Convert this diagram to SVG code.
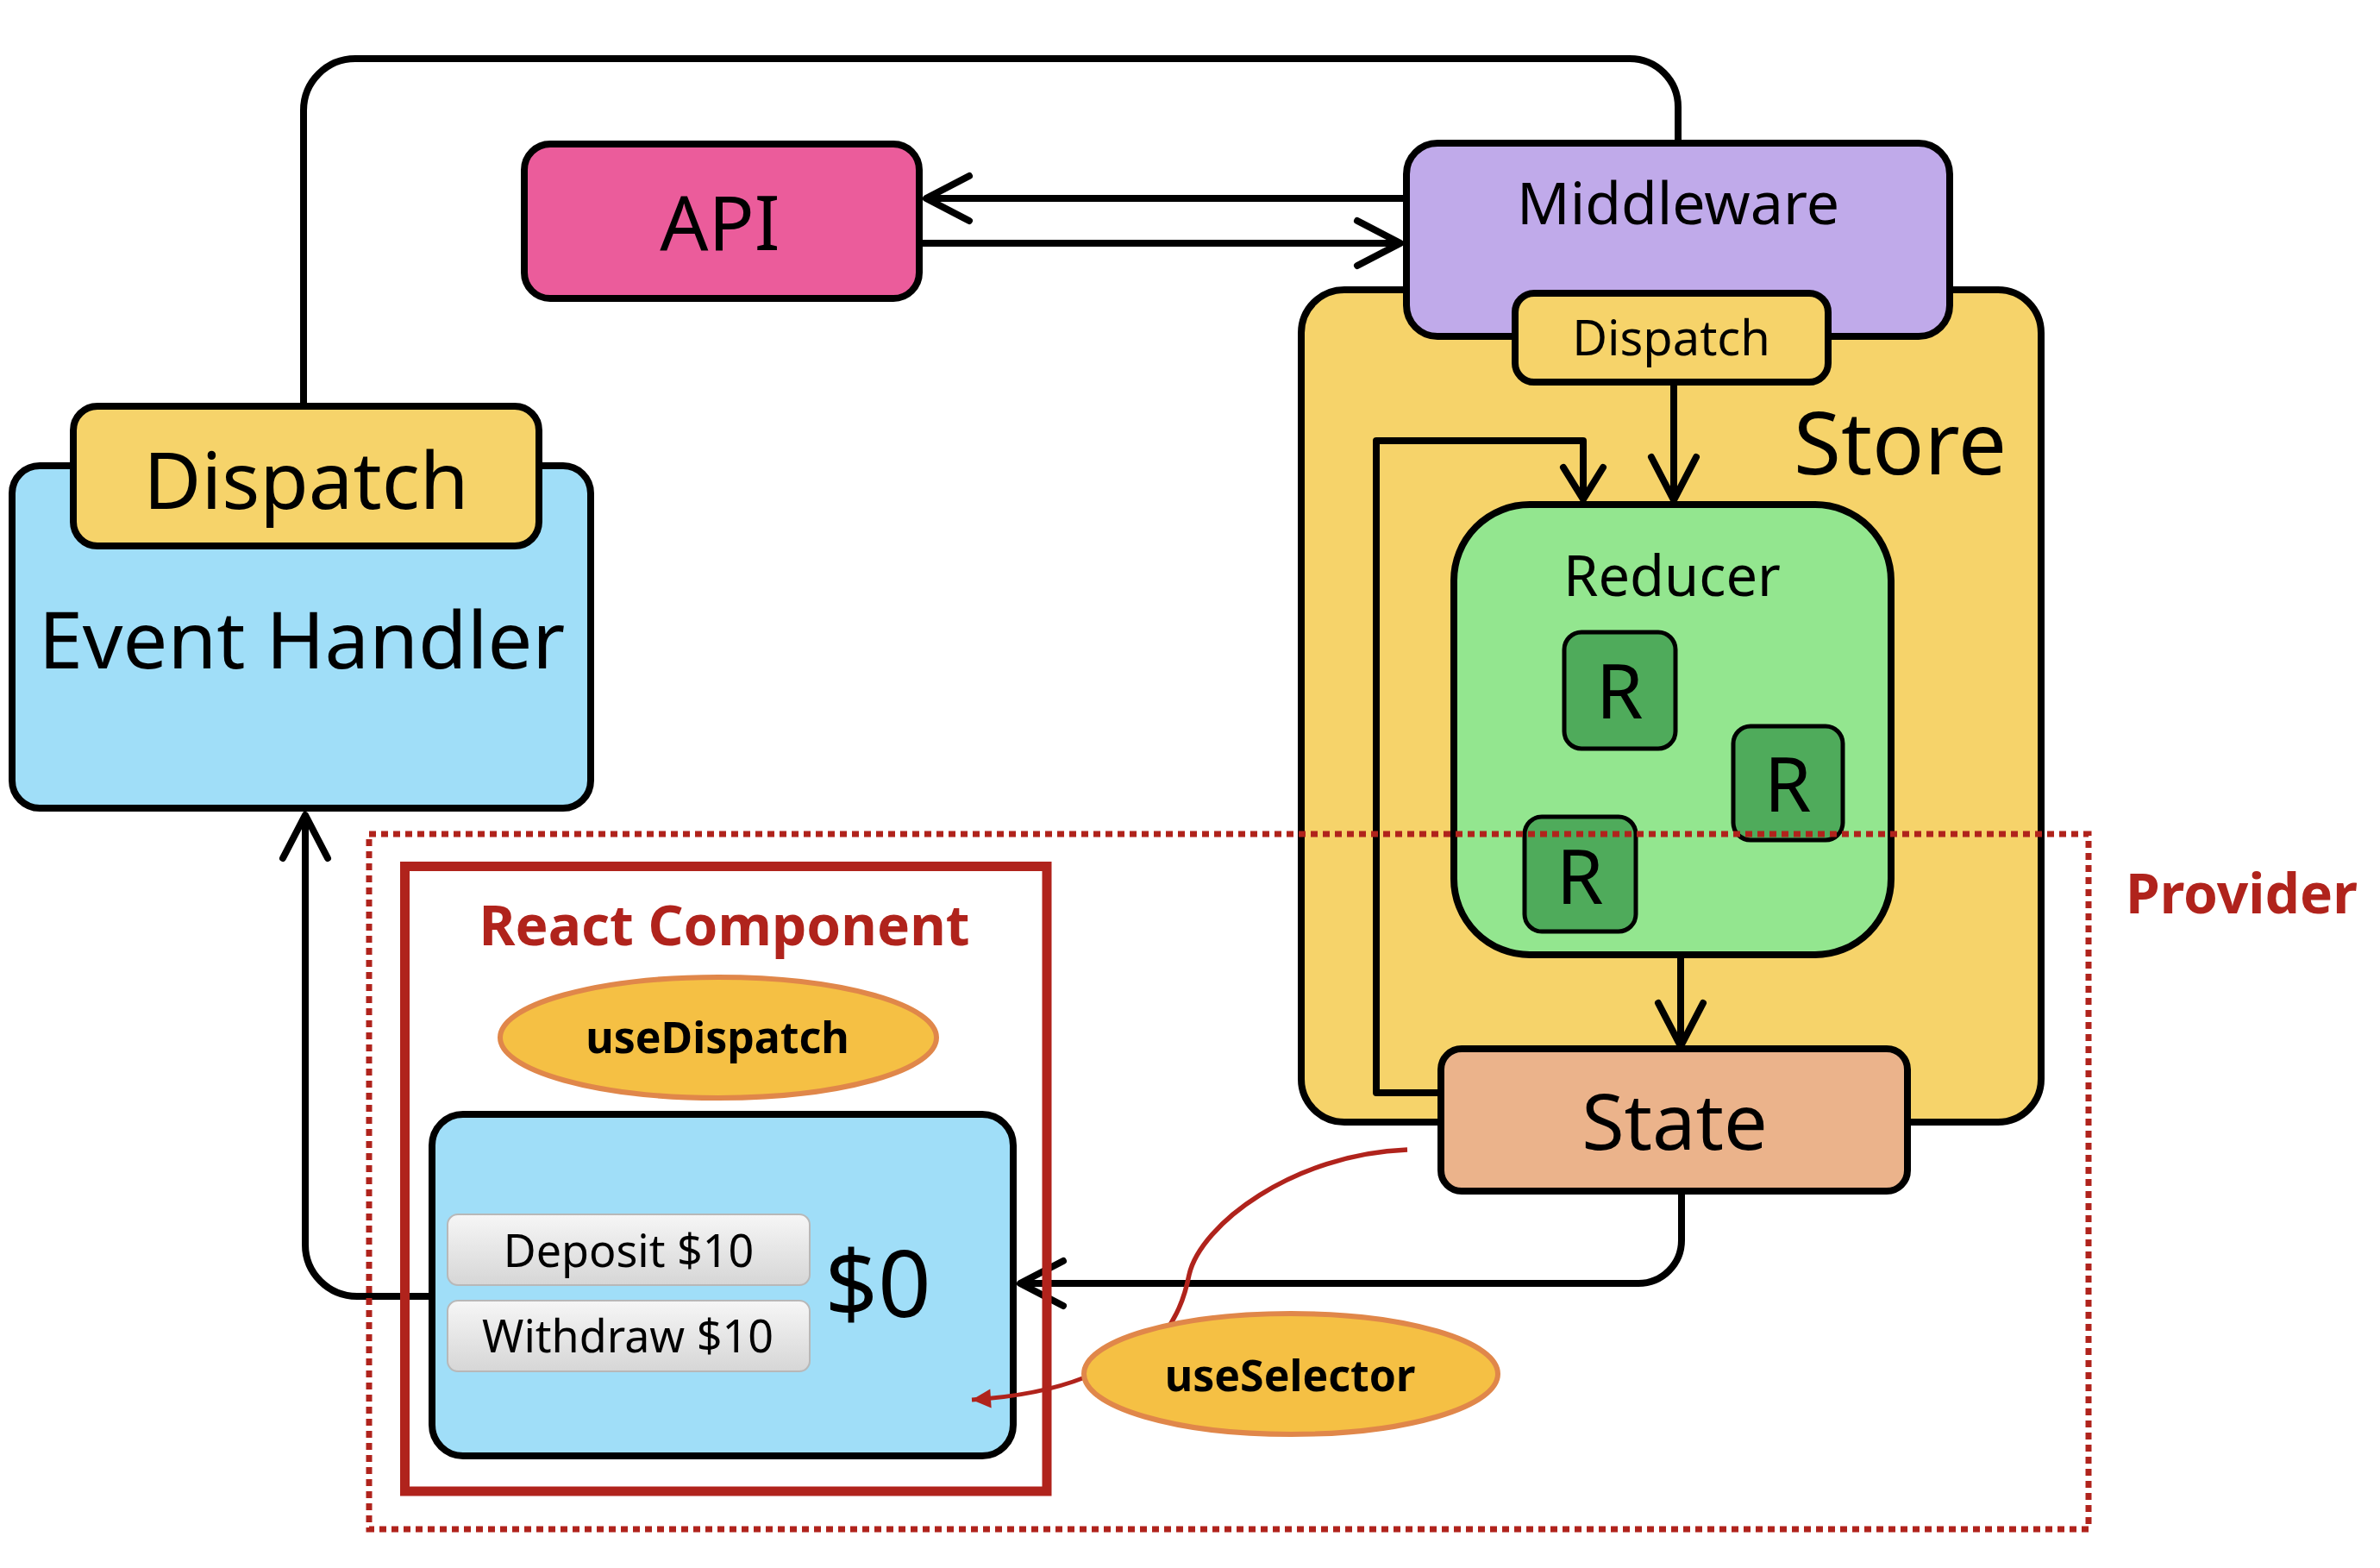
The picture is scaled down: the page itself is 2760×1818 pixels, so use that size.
<svg xmlns="http://www.w3.org/2000/svg" width="2760" height="1818" viewBox="0 0 2760 1818">
<style>
text{font-family:"Noto Sans","Open Sans","Liberation Sans",sans-serif;fill:#000;text-anchor:middle}
.box{stroke:#000;stroke-width:8}
.conn{fill:none;stroke:#000;stroke-width:8;stroke-linejoin:round}
.red{fill:none;stroke:#B0231C}
.ell{fill:#F5C044;stroke:#E0874A;stroke-width:6}
.bold{font-weight:bold}
.btn{fill:url(#btnGrad);stroke:#B8B8B8;stroke-width:2}
</style>
<defs>
<marker id="chev" markerUnits="userSpaceOnUse" viewBox="-60 -35 70 70" markerWidth="70" markerHeight="70" refX="0" refY="0" orient="auto" overflow="visible">
<path d="M-50,-26 L0,0 L-50,26" fill="none" stroke="#000" stroke-width="8" stroke-linecap="round" stroke-linejoin="round"/>
</marker>
<marker id="chevS" markerUnits="userSpaceOnUse" viewBox="-60 -35 70 70" markerWidth="70" markerHeight="70" refX="0" refY="0" orient="auto" overflow="visible">
<path d="M-37,-23 L0,0 L-37,23" fill="none" stroke="#000" stroke-width="8" stroke-linecap="round" stroke-linejoin="round"/>
</marker>
<marker id="redTri" markerUnits="userSpaceOnUse" viewBox="-25 -12 30 24" markerWidth="30" markerHeight="24" refX="0" refY="0" orient="auto" overflow="visible">
<path d="M-22,-11 L0,0 L-22,11 Z" fill="#B0231C"/>
</marker>
<linearGradient id="btnGrad" x1="0" y1="0" x2="0" y2="1">
<stop offset="0" stop-color="#F6F6F6"/>
<stop offset="1" stop-color="#D6D6D6"/>
</linearGradient>
</defs>
<rect width="2760" height="1818" fill="#fff"/>

<g id="event-handler">
<rect class="box" x="14" y="540" width="671" height="397" rx="32" fill="#A0DEF8"/>
<text x="350" y="775" font-size="92">Event Handler</text>
</g>
<g id="dispatch-left">
<rect class="box" x="85" y="471" width="540" height="162" rx="28" fill="#F6D36A"/>
<text x="355" y="590" font-size="92">Dispatch</text>
</g>
<g id="api">
<rect class="box" x="608" y="167" width="458" height="179" rx="30" fill="#EB5C9B"/>
<text x="835" y="290" font-size="88">API</text>
</g>
<g id="store">
<rect class="box" x="1509" y="336" width="858" height="965" rx="50" fill="#F6D36A"/>
<text x="2080" y="550" font-size="100" style="text-anchor:start">Store</text>
</g>
<g id="middleware">
<rect class="box" x="1631" y="166" width="630" height="224" rx="36" fill="#C0AAEA"/>
<text x="1946" y="260" font-size="68">Middleware</text>
</g>
<g id="dispatch-store">
<rect class="box" x="1757" y="340" width="363" height="103" rx="22" fill="#F6D36A"/>
<text x="1938" y="412" font-size="56">Dispatch</text>
</g>
<g id="reducer">
<rect class="box" x="1686" y="585" width="507" height="522" rx="88" fill="#93E68F"/>
<text x="1939" y="691" font-size="65">Reducer</text>
</g>
<g id="r1">
<rect x="1814" y="733" width="129" height="135" rx="20" fill="#4FAB5B" stroke="#000" stroke-width="5"/>
<text x="1878" y="833" font-size="88">R</text>
</g>
<g id="r2">
<rect x="2010" y="842" width="127" height="132" rx="20" fill="#4FAB5B" stroke="#000" stroke-width="5"/>
<text x="2073" y="941" font-size="88">R</text>
</g>
<g id="r3">
<rect x="1768" y="947" width="129" height="133" rx="20" fill="#4FAB5B" stroke="#000" stroke-width="5"/>
<text x="1832" y="1048" font-size="88">R</text>
</g>
<g id="state">
<rect class="box" x="1671" y="1216" width="541" height="165" rx="24" fill="#EBB38B"/>
<text x="1942" y="1333" font-size="90">State</text>
</g>
<g id="component-view">
<rect class="box" x="501" y="1292" width="674" height="396" rx="36" fill="#A0DEF8"/>
<rect class="btn" x="519" y="1408" width="420" height="82" rx="12"/>
<text x="729" y="1469" font-size="52" fill="#111">Deposit $10</text>
<rect class="btn" x="519" y="1508" width="420" height="82" rx="12"/>
<text x="728" y="1568" font-size="52" fill="#111">Withdraw $10</text>
<text x="1018" y="1527" font-size="108">$0</text>
</g>
<g id="use-dispatch">
<ellipse class="ell" cx="833" cy="1203" rx="253" ry="70"/>
<text class="bold" x="832" y="1221" font-size="50">useDispatch</text>
</g>

<g id="connectors">
<path class="conn" d="M352,467 L352,128 A60,60 0 0 1 412,68 L1890,68 A56,56 0 0 1 1946,124 L1946,163"/>
<path class="conn" d="M1628,230 L1074,230" marker-end="url(#chev)"/>
<path class="conn" d="M1070,282 L1624,282" marker-end="url(#chev)"/>
<path class="conn" d="M1941,447 L1941,580" marker-end="url(#chev)"/>
<path class="conn" d="M1667,1267 L1596,1267 L1596,511 L1836,511 L1836,579" marker-end="url(#chevS)"/>
<path class="conn" d="M1949,1111 L1949,1213" marker-end="url(#chev)"/>
<path class="conn" d="M1950,1385 L1950,1438 A50,50 0 0 1 1900,1488 L1183,1488" marker-end="url(#chev)"/>
<path class="conn" d="M497,1503 L414,1503 A60,60 0 0 1 354,1443 L354,945" marker-end="url(#chev)"/>
</g>

<g id="react-component">
<rect class="red" x="469.5" y="1004.5" width="744.5" height="724.5" stroke-width="11"/>
<text class="bold" x="840" y="1096" font-size="64" style="fill:#B0231C">React Component</text>
</g>

<g id="selector-connectors">
<path class="red" stroke-width="5.5" d="M1632,1333 C1500,1338 1392,1420 1379,1478 C1373,1508 1365,1525 1345,1555"/>
<path class="red" stroke-width="5" d="M1258,1597 Q1205,1618 1127,1623" marker-end="url(#redTri)"/>
</g>

<g id="use-selector">
<ellipse class="ell" cx="1497" cy="1593" rx="240" ry="70"/>
<text class="bold" x="1496" y="1613" font-size="50">useSelector</text>
</g>

<g id="provider">
<rect class="red" x="428" y="967" width="1994" height="806" stroke-width="7" stroke-dasharray="8 6"/>
<text class="bold" x="2465" y="1059" font-size="64" style="text-anchor:start;fill:#B0231C">Provider</text>
</g>
</svg>
